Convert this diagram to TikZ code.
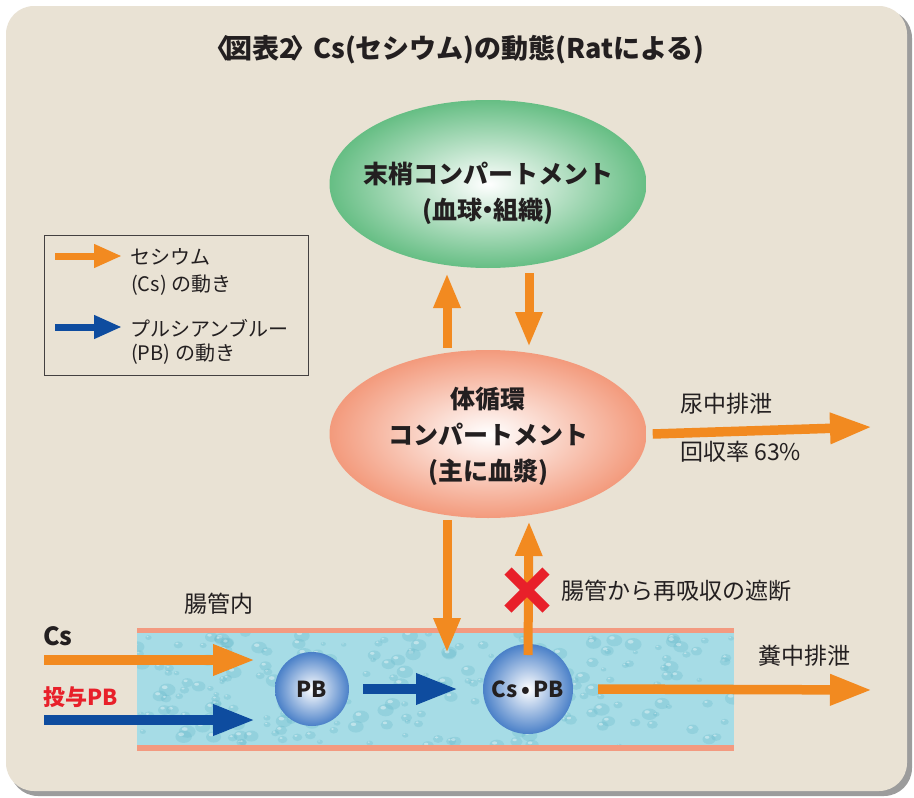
\documentclass[tikz,border=0pt]{standalone}
\usepackage{fontspec}
\setmainfont{Noto Sans CJK JP}
\usetikzlibrary{arrows.meta,shapes.geometric}
\definecolor{panel}{HTML}{E9E2D4}
\definecolor{shadowc}{HTML}{9C9C9C}
\definecolor{corange}{HTML}{F28A20}
\definecolor{cblue}{HTML}{0E4C9F}
\definecolor{cgreen}{HTML}{66BE84}
\definecolor{csalmon}{HTML}{F39A7C}
\definecolor{ctube}{HTML}{A6DCE6}
\definecolor{cdrop}{HTML}{62B6C8}
\definecolor{cpink}{HTML}{F39A80}
\definecolor{cred}{HTML}{E8202A}
\definecolor{ctext}{HTML}{231F20}
\definecolor{cball}{HTML}{4A80C8}
\tikzset{
  harr/.style={line width=9.5pt, -{Triangle[length=42pt,width=29pt]}},
  varr/.style={line width=9pt, -{Triangle[length=35pt,width=25pt]}},
  larr/.style={line width=7pt, -{Triangle[length=28pt,width=22pt]}},
  lbl/.style={text=ctext, font=\fontsize{23}{28}\selectfont, inner sep=0pt},
  leg/.style={text=ctext, font=\fontsize{20}{24}\selectfont, inner sep=0pt, anchor=west},
  comp/.style={ellipse, minimum width=317pt, minimum height=168pt, inner sep=0pt, shading=radial, inner color=white},
  ctxt/.style={text=ctext, font=\bfseries\fontsize{25}{36}\selectfont, align=center, inner sep=0pt},
  ball/.style={circle, inner sep=0pt, shading=radial, inner color=white, outer color=cball, text=ctext, font=\bfseries\fontsize{22}{26}\selectfont},
}
\newcommand{\ndot}{\kern-.28em・\kern-.28em}
\begin{document}
\begin{tikzpicture}[x=1pt,y=-1pt]
\useasboundingbox (0,0) rectangle (914,798);
\fill[white] (0,0) rectangle (914,798);
% panel with shadow
\fill[shadowc, rounded corners=28pt] (10,10) rectangle (912,796);
\fill[panel, rounded corners=28pt] (6,6) rectangle (907,791);
% title
\node[text=ctext, font=\bfseries\fontsize{27}{30}\selectfont, inner sep=0pt] (title) at (458,50) {\kern-.3em〈\kern-.2em図表2\kern-.2em〉\kern-.15em Cs(セシウム)の動態(Ratによる)};
% compartments
\node[comp, outer color=cgreen] (peri) at (488,184) {};
\node[ctxt] (peritxt) at (488,193) {末梢コンパートメント\\(血球\ndot 組織)};
\node[comp, outer color=csalmon] (body) at (488,434) {};
\node[ctxt] (bodytxt) at (488,436) {体循環\\コンパートメント\\(主に血漿)};
% legend
\node[draw=ctext!85, line width=0.8pt, minimum width=264pt, minimum height=140pt, inner sep=0pt] (legend) at (176,305) {};
\coordinate (lo1) at (55,256); \coordinate (lo2) at (122,256);
\coordinate (lb1) at (55,327); \coordinate (lb2) at (122,327);
\draw[larr, corange] (lo1) -- (lo2);
\draw[larr, cblue] (lb1) -- (lb2);
\node[leg] (l1) at (130,257) {セシウム};
\node[leg] (l2) at (131,285) {(Cs) の動き};
\node[leg] (l3) at (130,328) {プルシアンブルー};
\node[leg] (l4) at (131,354) {(PB) の動き};
% tube
\fill[ctube] (137,632) rectangle (734,746);
\begin{scope}
\clip (137,632) rectangle (734,746);
\pgfmathsetseed{7}
\foreach \i in {1,...,230}{
  \pgfmathsetmacro{\xx}{137+597*rnd}
  \pgfmathsetmacro{\yy}{632+114*rnd}
  \pgfmathsetmacro{\rr}{2.5+6*rnd}
  \fill[cdrop, opacity=0.28] (\xx,\yy) ellipse ({\rr} and {\rr*0.75});
  \fill[white, opacity=0.4] (\xx-\rr*0.3,\yy-\rr*0.3) ellipse ({\rr*0.35} and {\rr*0.22});
}
\end{scope}
\fill[cpink] (137,628) rectangle (734,633);
\fill[cpink] (137,745) rectangle (734,751);
\node[lbl] (gut) at (219,604) {腸管内};
% balls
\node[ball, minimum size=74pt] (pb) at (312,689) {PB};
\node[ball, minimum size=90pt] (cspb) at (528,689) {Cs\,•\,PB};
% inputs
\node[text=ctext, font=\bfseries\fontsize{25}{28}\selectfont, inner sep=0pt, anchor=west] (cs) at (43,636) {Cs};
\node[text=cred, font=\bfseries\fontsize{22}{26}\selectfont, inner sep=0pt, anchor=west] (pbin) at (43,697) {投与PB};
\coordinate (csin) at (44,660); \coordinate (csend) at (255,660);
\coordinate (pbs) at (44,720); \coordinate (pbe) at (255,720);
\draw[harr, corange] (csin) -- (csend);
\draw[harr, cblue] (pbs) -- (pbe);
\coordinate (mid) at (458,689);
\draw[harr, cblue] ([xshift=14pt]pb.east) -- (mid);
% vertical arrows
\coordinate (u1) at (447,348); \coordinate (u2) at (447,273);
\coordinate (d1) at (529,273); \coordinate (d2) at (529,347);
\draw[varr, corange] (u1) -- (u2);
\draw[varr, corange] (d1) -- (d2);
\coordinate (dd1) at (447,520); \coordinate (dd2) at (447,653);
\draw[varr, corange] (dd1) -- (dd2);
\coordinate (uu2) at (529,521);
\draw[varr, corange] ([yshift=34pt]cspb.center) -- (uu2);
% red cross
\draw[cred, line width=10pt] (508,571) -- (546,609) (546,571) -- (508,609);
\node[lbl, anchor=west] (block) at (561,591) {腸管から再吸収の遮断};
% urine
\coordinate (ue) at (872,427);
\draw[harr, corange] ([xshift=6pt]body.east) -- (ue);
\node[lbl, anchor=west] (urine) at (680,404) {尿中排泄};
\node[lbl, anchor=west] (rate) at (680,452) {回収率 63\%};
% feces
\coordinate (fe) at (872,690);
\draw[harr, corange] ([xshift=25pt]cspb.east) -- (fe);
\node[lbl, anchor=west] (feces) at (758,656) {糞中排泄};
\end{tikzpicture}
\end{document}
